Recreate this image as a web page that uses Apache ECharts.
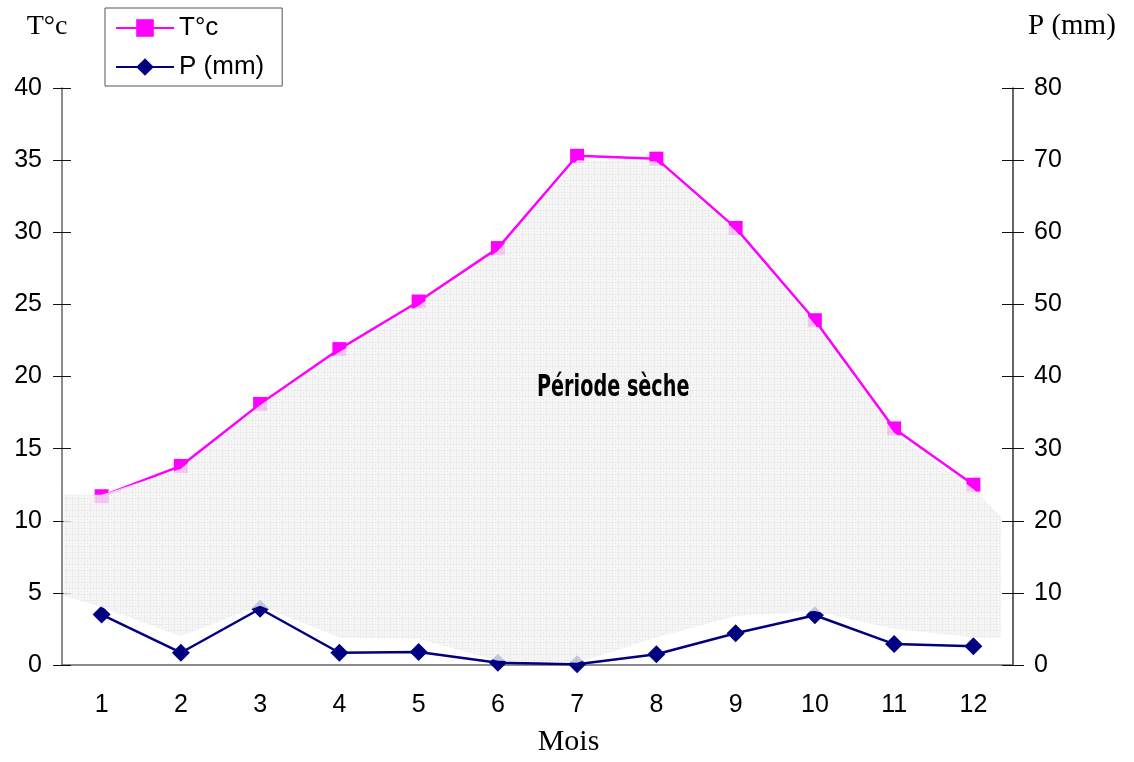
<!DOCTYPE html>
<html>
<head>
<meta charset="utf-8">
<script src="https://cdn.jsdelivr.net/npm/echarts@6/dist/echarts.min.js"></script>
<style>
  html, body { margin: 0; padding: 0; background: #fff; }
  #chart { width: 1134px; height: 762px; }
</style>
</head>
<body>
<div id="chart"></div>
<script>
// mois
const months = ["1", "2", "3", "4", "5", "6", "7", "8", "9", "10", "11", "12"];
// température moyenne (°C), axe gauche
const temperature = [11.7, 13.8, 18.1, 21.9, 25.2, 28.9, 35.3, 35.1, 30.3, 23.9, 16.4, 12.5];
// précipitations (mm), axe droit
const precipitation = [7.0, 1.7, 7.8, 1.7, 1.8, 0.3, 0.1, 1.5, 4.4, 6.9, 2.9, 2.6];

// zone "période sèche" (en unités de l'axe T°c)
const dryX = [0.52, 1, 2, 3, 4, 5, 6, 7, 8, 9, 10, 11, 12, 12.35];
const dryUpper = [11.8, 11.8, 13.6, 18.0, 21.7, 24.9, 28.7, 35.0, 34.9, 30.1, 23.6, 16.1, 12.2, 10.3];
const dryLower = [4.8, 4.0, 2.0, 4.1, 1.9, 1.8, 0.3, 0.15, 1.9, 3.4, 3.75, 2.5, 1.9, 1.9];

const serif = "'Liberation Serif', 'Times New Roman', serif";
const sans = "'Liberation Sans', Arial, sans-serif";

// petite texture grise
function makeTexture() {
  const c = document.createElement("canvas");
  c.width = 6;
  c.height = 6;
  const ctx = c.getContext("2d");
  ctx.fillStyle = "#f5f5f5";
  ctx.fillRect(0, 0, 6, 6);
  ctx.fillStyle = "#e8e8e8";
  ctx.fillRect(0, 0, 6, 1);
  ctx.fillRect(0, 0, 1, 6);
  ctx.fillStyle = "#dcdcdc";
  ctx.fillRect(3, 3, 1, 1);
  return c;
}

const chart = echarts.init(document.getElementById("chart"));

const option = {
  animation: false,
  grid: { left: 62, right: 121, top: 88, bottom: 96 },
  legend: {
    orient: "vertical",
    left: 105,
    top: 8,
    data: ["T°c", "P (mm)"],
    backgroundColor: "#fff",
    borderColor: "#555",
    borderWidth: 1,
    borderRadius: 0,
    padding: [7, 18, 6, 10],
    itemGap: 13,
    itemWidth: 58,
    itemHeight: 22,
    textStyle: { fontFamily: sans, fontSize: 26, color: "#000" },
  },
  xAxis: [
    {
      type: "category",
      data: months,
      boundaryGap: true,
      name: "Mois",
      nameLocation: "middle",
      nameGap: 62,
      nameTextStyle: { fontFamily: serif, fontSize: 30, color: "#000", padding: [0, 0, 0, 62] },
      axisLine: { lineStyle: { color: "#666", width: 1.5 } },
      axisTick: { length: 9, lineStyle: { color: "#111" } },
      axisLabel: { margin: 28, fontFamily: sans, fontSize: 25, color: "#000" },
      splitLine: { show: false },
    },
    {
      type: "category",
      data: months,
      boundaryGap: true,
      position: "bottom",
      axisLine: { show: false },
      axisTick: { inside: true, length: 9, lineStyle: { color: "#111" } },
      axisLabel: { show: false },
    },
    {
      type: "value",
      min: 0.5,
      max: 12.5,
      show: false,
    },
  ],
  yAxis: [
    {
      type: "value",
      position: "left",
      min: 0,
      max: 40,
      interval: 5,
      name: "T°c",
      nameLocation: "end",
      nameGap: 47,
      nameTextStyle: { fontFamily: serif, fontSize: 28, color: "#000", align: "center", padding: [0, 30, 0, 0] },
      axisLine: { show: true, lineStyle: { color: "#666", width: 1.5 } },
      axisTick: { show: true, length: 9, lineStyle: { color: "#111" } },
      axisLabel: { margin: 20, fontFamily: sans, fontSize: 25, color: "#000" },
      splitLine: { show: false },
    },
    {
      type: "value",
      position: "right",
      min: 0,
      max: 80,
      interval: 10,
      name: "P (mm)",
      nameLocation: "end",
      nameGap: 47,
      nameTextStyle: { fontFamily: serif, fontSize: 29, color: "#000", align: "left", padding: [0, 0, 0, 15] },
      axisLine: { show: true, lineStyle: { color: "#333", width: 1.5 } },
      axisTick: { show: true, length: 11, lineStyle: { color: "#111" } },
      axisLabel: { margin: 21, fontFamily: sans, fontSize: 25, color: "#000" },
      splitLine: { show: false },
    },
    {
      type: "value",
      position: "left",
      min: 0,
      max: 40,
      interval: 5,
      axisLine: { show: false },
      axisTick: { show: true, inside: true, length: 9, lineStyle: { color: "#111" } },
      axisLabel: { show: false },
      splitLine: { show: false },
    },
    {
      type: "value",
      position: "right",
      min: 0,
      max: 80,
      interval: 10,
      axisLine: { show: false },
      axisTick: { show: true, inside: true, length: 11, lineStyle: { color: "#111" } },
      axisLabel: { show: false },
      splitLine: { show: false },
    },
  ],
  series: [
    {
      name: "T°c",
      type: "line",
      xAxisIndex: 0,
      yAxisIndex: 0,
      data: temperature,
      symbol: "rect",
      symbolSize: 14,
      color: "#ff00ff",
      lineStyle: { color: "#ff00ff", width: 2.5 },
      itemStyle: { color: "#ff00ff" },
      z: 2,
    },
    {
      name: "P (mm)",
      type: "line",
      xAxisIndex: 0,
      yAxisIndex: 1,
      data: precipitation,
      symbol: "diamond",
      symbolSize: 18,
      color: "#000080",
      lineStyle: { color: "#000080", width: 2.5 },
      itemStyle: { color: "#000080" },
      z: 2,
    },
    {
      name: "Période sèche",
      type: "custom",
      xAxisIndex: 2,
      yAxisIndex: 0,
      silent: true,
      z: 3,
      data: dryX.map((x, i) => [x, dryUpper[i], dryLower[i]]),
      renderItem: function (params, api) {
        if (params.dataIndex !== 0) return null;
        const pts = [];
        for (let i = 0; i < dryX.length; i++) pts.push(api.coord([dryX[i], dryUpper[i]]));
        for (let i = dryX.length - 1; i >= 0; i--) pts.push(api.coord([dryX[i], dryLower[i]]));
        return {
          type: "polygon",
          shape: { points: pts },
          style: {
            fill: { image: makeTexture(), repeat: "repeat" },
            opacity: 0.82,
          },
        };
      },
    },
  ],
  graphic: [
    {
      type: "text",
      x: 537,
      y: 372,
      scaleX: 0.62,
      z: 10,
      style: {
        text: "Période sèche",
        fontFamily: "'DejaVu Sans', sans-serif",
        fontWeight: "bold",
        fontSize: 31,
        fill: "#000",
      },
    },
  ],
};

chart.setOption(option);
</script>
</body>
</html>
